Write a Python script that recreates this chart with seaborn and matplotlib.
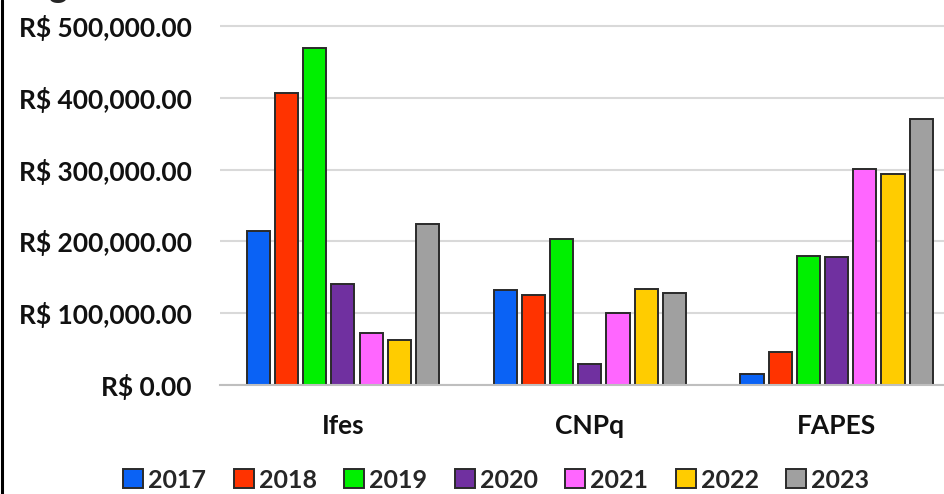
import seaborn as sns
import matplotlib.pyplot as plt
import pandas as pd
from matplotlib.lines import Line2D
from matplotlib.ticker import FuncFormatter

agencies = ["Ifes", "CNPq", "FAPES"]
years = ["2017", "2018", "2019", "2020", "2021", "2022", "2023"]

v2017 = [215000, 132000, 16000]
v2018 = [407000, 126000, 45500]
v2019 = [470000, 204000, 180000]
v2020 = [141000, 29000, 178000]
v2021 = [72000, 100000, 301000]
v2022 = [63000, 134000, 294000]
v2023 = [224000, 128000, 370000]

colors = ["#0A62F5", "#FF3300", "#00F000", "#7030A0", "#FF66FF", "#FFCC00", "#A0A0A0"]

rows = []
for year, vals in zip(years, [v2017, v2018, v2019, v2020, v2021, v2022, v2023]):
    for agency, v in zip(agencies, vals):
        rows.append({"Agency": agency, "Year": year, "Value": v})
df = pd.DataFrame(rows)

sns.set_style("white")
plt.rcParams['font.family'] = ['Lato', 'DejaVu Sans']
plt.rcParams['font.weight'] = 'bold'

W, H = 944, 494
fig = plt.figure(figsize=(W / 100, H / 100), dpi=100)

# axes placed in pixels: y=0 at 385px, 100k = 71.8px
ymax = 510000
top_px = 385 - ymax / 100000 * 71.8
ax = fig.add_axes([219.5 / W, (H - 385) / H, 1 - 219.5 / W, (385 - top_px) / H])

sns.barplot(
    data=df, x="Agency", y="Value", hue="Year",
    order=agencies, hue_order=years,
    palette=dict(zip(years, colors)), saturation=1,
    width=0.8, gap=0.18,
    edgecolor="#2a2a2a", linewidth=1.4,
    errorbar=None, ax=ax,
)

ax.set_xlim(-0.5, 2.435)
ax.set_ylim(0, ymax)
ax.set_yticks([0, 100000, 200000, 300000, 400000, 500000])
ax.yaxis.set_major_formatter(FuncFormatter(lambda v, p: f"R$ {v:,.2f}"))
ax.grid(axis="y", color="#D9D9D9", linewidth=1.5)
ax.set_axisbelow(True)
for s in ["top", "right", "left"]:
    ax.spines[s].set_visible(False)
ax.spines["bottom"].set_color("#BFBFBF")
ax.spines["bottom"].set_linewidth(1.5)
ax.tick_params(axis="y", length=0, pad=20, labelsize=19, labelcolor="#111111")
ax.tick_params(axis="x", length=0, pad=21, labelsize=19, labelcolor="#111111")
for lbl in ax.get_yticklabels() + ax.get_xticklabels():
    lbl.set_fontweight("bold")
ax.set_xlabel("")
ax.set_ylabel("")

handles, labels = ax.get_legend_handles_labels()
ax.get_legend().remove()
fig.legend(
    handles, labels, loc="center", bbox_to_anchor=(496 / W, 1 - 480 / H),
    ncol=7, frameon=False,
    handlelength=0.8, handleheight=0.8, handletextpad=0.2, columnspacing=1.1,
    prop={"weight": "bold", "size": 18},
)

# left border of the cropped picture
fig.add_artist(Line2D([1.5 / W, 1.5 / W], [0, 1], color="black", linewidth=2.2, transform=fig.transFigure))
# tail of the cropped title glyph
fig.text(58 / W, 1 + 3 / H, "g", fontsize=26, fontweight="bold", ha="center", va="baseline")

fig.savefig("out.png", dpi=100)
